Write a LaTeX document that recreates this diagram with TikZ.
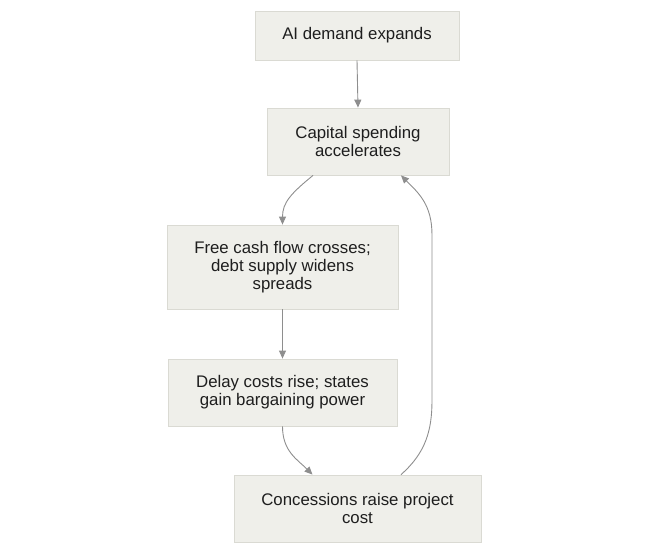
\documentclass[tikz,border=0pt]{standalone}
\usepackage{fontspec}
\setmainfont{Liberation Sans}
\usetikzlibrary{arrows.meta,calc}
\definecolor{boxfill}{HTML}{EFEFEA}
\definecolor{boxline}{HTML}{DADAD3}
\definecolor{edgecol}{HTML}{8E8E8E}
\definecolor{txt}{HTML}{1E1E1E}
\tikzset{
  flowbox/.style={draw=boxline, fill=boxfill, line width=0.8pt, inner sep=0pt,
    align=center, text=txt, font=\fontsize{16.8}{17.8}\selectfont},
  flowedge/.style={draw=edgecol, line width=0.9pt, -{Triangle[length=8pt,width=7pt]}}
}
\begin{document}
\begin{tikzpicture}[x=1pt,y=-1pt]
\useasboundingbox (0,0) rectangle (648,554);
\node[flowbox, minimum width=204pt, minimum height=49pt] (n1) at (357,35.5) {AI demand expands};
\node[flowbox, minimum width=182pt, minimum height=67pt] (n2) at (358,141.5) {Capital spending\\accelerates};
\node[flowbox, minimum width=231pt, minimum height=84pt] (n3) at (282.5,267) {Free cash flow crosses;\\debt supply widens\\spreads};
\node[flowbox, minimum width=229pt, minimum height=67pt] (n4) at (282.5,392.5) {Delay costs rise; states\\gain bargaining power};
\node[flowbox, minimum width=247pt, minimum height=67pt] (n5) at (357.5,508.5) {Concessions raise project\\cost};
\coordinate (r1) at (432,400);
\coordinate (r2) at (432,235);
\draw[flowedge] (n1.south) -- (n2.north);
\draw[flowedge] ($(n2.south)+(-45,0)$) .. controls +(-22,18) and +(0,-22) .. (n3.north);
\draw[flowedge] (n3.south) -- (n4.north);
\draw[flowedge] (n4.south) .. controls +(0,25) and +(-15,-15) .. ($(n5.north)+(-45,0)$);
\draw[flowedge] ($(n5.north)+(43.5,0)$) .. controls +(25,-22) and +(0,30) .. (r1) -- (r2) .. controls +(0,-30) and +(18,18) .. ($(n2.south)+(43,0)$);
\end{tikzpicture}
\end{document}
